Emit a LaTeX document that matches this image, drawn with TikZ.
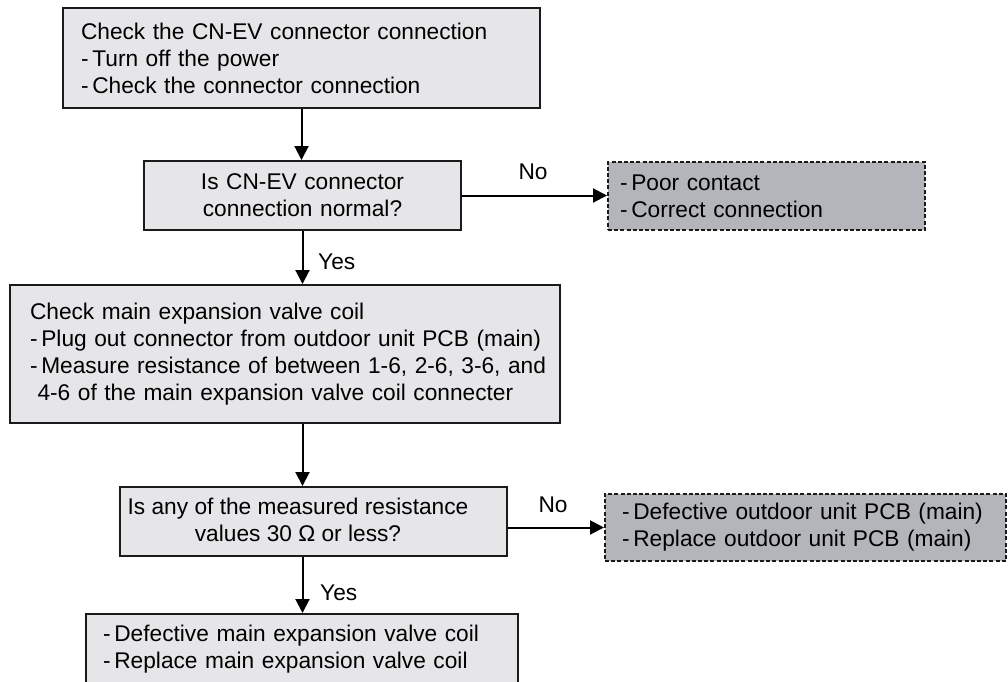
\documentclass[tikz,border=0pt]{standalone}
\usepackage{fontspec}
\setmainfont{Liberation Sans}
\usetikzlibrary{arrows.meta}
\definecolor{lightfill}{HTML}{E6E6E9}
\definecolor{darkfill}{HTML}{B3B5BA}
\definecolor{edge}{HTML}{1A1A1A}
\tikzset{
  box/.style={draw=edge, line width=2pt, fill=lightfill, inner ysep=0pt, anchor=north west,
    font=\fontsize{22.7}{27}\selectfont},
  result/.style={draw=edge, line width=2pt, fill=darkfill, dash pattern=on 4pt off 2.2pt,
    inner ysep=0pt, anchor=north west, font=\fontsize{22.7}{27}\selectfont},
  arr/.style={draw=black, line width=2pt, -{Triangle[length=14pt,width=14pt]}},
  lbl/.style={font=\fontsize{22.7}{27}\selectfont, inner sep=0pt}
}
\begin{document}
\begin{tikzpicture}[x=1pt,y=-1pt]
\useasboundingbox (0,0) rectangle (1008,681);
% box 1
\node[box, minimum height=100pt, inner xsep=18pt, text width=441pt, align=left] (b1) at (62,7)
  {\mbox{Check the CN-EV connector connection}\\\mbox{-\,Turn off the power}\\\mbox{-\,Check the connector connection}};
% box 2
\node[box, minimum height=69pt, inner xsep=5pt, text width=307pt, align=center] (b2) at (143,160)
  {Is CN-EV connector\\connection normal?};
% box 3
\node[result, minimum height=68pt, inner xsep=12pt, text width=293pt, align=left] (b3) at (607,161)
  {\mbox{-\,Poor contact}\\\mbox{-\,Correct connection}};
% box 4
\node[box, minimum height=138pt, inner xsep=20pt, text width=510pt, align=left] (b4) at (9,284)
  {\mbox{Check main expansion valve coil}\\\mbox{-\,Plug out connector from outdoor unit PCB (main)}\\\mbox{-\,Measure resistance of between 1-6, 2-6, 3-6, and}\\\mbox{\hphantom{-}4-6 of the main expansion valve coil connecter}};
% box 5
\node[box, minimum height=69pt, minimum width=387pt] (b5) at (119,486) {};
\node[lbl, align=center] (b5t) at (298,520) {Is any of the measured resistance\\values 30 \char"03A9\ or less?};
% box 6
\node[result, minimum height=67pt, inner xsep=17pt, text width=367pt, align=left] (b6) at (604,493)
  {\mbox{-\,Defective outdoor unit PCB (main)}\\\mbox{-\,Replace outdoor unit PCB (main)}};
% box 7
\node[box, minimum height=70pt, inner xsep=17pt, text width=398pt, align=left] (b7) at (85,613)
  {\mbox{-\,Defective main expansion valve coil}\\\mbox{-\,Replace main expansion valve coil}};
% connectors
\draw[arr] (b1.south) -- (b1.south |- b2.north);
\draw[arr] (b2.south) -- (b2.south |- b4.north);
\draw[arr] (b2.south |- b4.south) -- (b2.south |- b5.north);
\draw[arr] (b2.south |- b5.south) -- (b2.south |- b7.north);
\draw[arr] (b2.east) -- (b2.east -| b3.west);
\draw[arr] (b5.east |- b6.west) -- (b6.west);
% labels
\node[lbl] (no1) at (533,172) {No};
\node[lbl] (no2) at (553,505) {No};
\node[lbl, anchor=west] (yes1) at (318,262) {Yes};
\node[lbl, anchor=west] (yes2) at (320,593) {Yes};
\end{tikzpicture}
\end{document}
